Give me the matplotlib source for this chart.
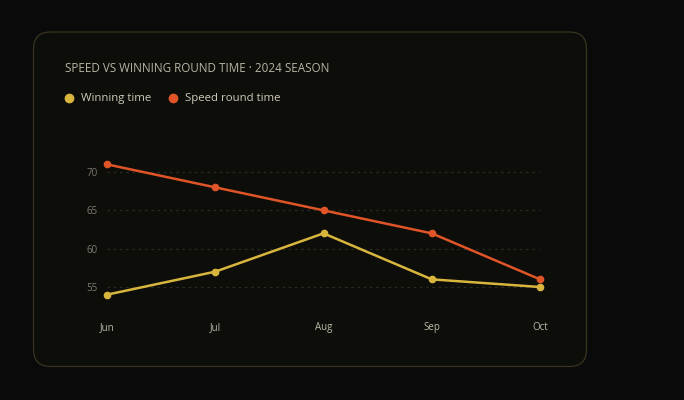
import matplotlib
matplotlib.use("Agg")
import matplotlib.pyplot as plt
from matplotlib.patches import FancyBboxPatch
from matplotlib.lines import Line2D

months = ["Jun", "Jul", "Aug", "Sep", "Oct"]
winning_time = [54, 57, 62, 56, 55]
speed_round_time = [71, 68, 65, 62, 56]
y_ticks = [55, 60, 65, 70]

BG = "#0a0a0a"
CARD = "#0d0d0a"
BORDER = "#3a3520"
YELLOW = "#d8b63e"
ORANGE = "#df5528"

plt.rcParams['font.family'] = ['Open Sans', 'DejaVu Sans']

fig = plt.figure(figsize=(6.84, 4.0), dpi=100)
fig.patch.set_facecolor(BG)

card = FancyBboxPatch((0.335, 0.335), 5.53, 3.345,
                      boxstyle="round,pad=0,rounding_size=0.17",
                      transform=fig.dpi_scale_trans,
                      facecolor=CARD, edgecolor=BORDER, linewidth=0.9,
                      zorder=-5)
fig.patches.append(card)

fig.text(65/684, 1-69/400, "SPEED VS WINNING ROUND TIME · 2024 SEASON",
         color="#b9b5a3", fontsize=8.4, va="center", ha="left")

# legend
fig.add_artist(Line2D([69/684], [1-98/400], marker="o", markersize=6,
                      color=YELLOW, linestyle="none", transform=fig.transFigure))
fig.text(81/684, 1-98/400, "Winning time", color="#cfcbb8", fontsize=8.2,
         va="center", ha="left")
fig.add_artist(Line2D([173/684], [1-98/400], marker="o", markersize=6,
                      color=ORANGE, linestyle="none", transform=fig.transFigure))
fig.text(185/684, 1-98/400, "Speed round time", color="#cfcbb8", fontsize=8.2,
         va="center", ha="left")

ax = fig.add_axes([107/684, 1-310/400, 433/684, (310-156.7)/400])
ax.set_facecolor("none")
ax.set_zorder(2)
x = list(range(len(months)))
ax.plot(x, winning_time, color=YELLOW, linewidth=1.8, marker="o",
        markersize=4.5, clip_on=False, zorder=3)
ax.plot(x, speed_round_time, color=ORANGE, linewidth=1.8, marker="o",
        markersize=4.5, clip_on=False, zorder=3)

ax.set_xlim(0, len(months)-1)
ax.set_ylim(52, 72)
ax.set_xticks(x)
ax.set_xticklabels(months)
ax.set_yticks(y_ticks)
ax.tick_params(axis="x", length=0, pad=8.5, labelsize=7, labelcolor="#bdb9a8")
ax.tick_params(axis="y", length=0, pad=7, labelsize=7, labelcolor="#7d7a6e")
for s in ax.spines.values():
    s.set_visible(False)
ax.grid(axis="y", color="#2c2b22", linestyle=(0, (2, 3)), linewidth=0.9)
ax.set_axisbelow(True)

fig.savefig("out.png", dpi=100, facecolor=BG)
